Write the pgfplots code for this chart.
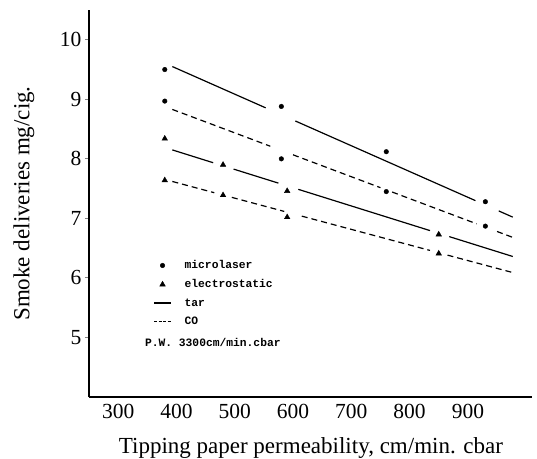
\documentclass[border=0pt]{standalone}
\usepackage{fontspec}
\setmainfont{Liberation Serif}
\newfontfamily\lmono{Liberation Mono}
\usepackage{pgfplots}
\pgfplotsset{compat=1.18}

% measured points
\pgfplotstableread{
x y
380 9.50
580 8.88
760 8.12
930 7.28
}\mictar
\pgfplotstableread{
x y
380 8.97
580 8.00
760 7.45
930 6.87
}\micco
\pgfplotstableread{
x y
380 8.34
480 7.90
590 7.46
850 6.73
}\eletar
\pgfplotstableread{
x y
380 7.64
480 7.39
590 7.02
850 6.41
}\eleco

\begin{document}
\begin{tikzpicture}
\useasboundingbox (-89bp,-62bp) rectangle (448bp,397bp);
\begin{axis}[
  scale only axis, width=443bp, height=387bp,
  xmin=250, xmax=1010, ymin=4, ymax=10.5,
  axis lines=left, axis line style={-, line width=1.4bp},
  xtick={300,400,...,900}, ytick={5,6,...,10},
  tick align=outside, major tick length=4bp,
  xtick style={draw=none}, ytick style={line width=1bp},
  ticklabel style={font=\fontsize{21.5bp}{25bp}\selectfont},
  /pgf/number format/assume math mode=true,
  xlabel={Tipping paper permeability, cm/min. cbar},
  ylabel={Smoke deliveries mg/cig.},
  label style={font=\fontsize{23bp}{27bp}\selectfont},
  xlabel style={at={(axis description cs:0.501,-0.145)}, anchor=base},
  ylabel style={at={(axis description cs:-0.147,0.5)}, anchor=center},
  unbounded coords=jump,
  legend style={draw=none, fill=none, at={(axis description cs:0.145,0.358)},
    anchor=north west, inner sep=0pt, row sep=5.3bp, column sep=11bp,
    font=\lmono\bfseries\fontsize{11.3bp}{13bp}\selectfont},
  legend cell align=left,
]
\addlegendimage{only marks, mark=*, mark size=2.3bp, black}
\addlegendentry{microlaser}
\addlegendimage{only marks, mark=triangle*, mark size=3.2bp, black}
\addlegendentry{electrostatic}
\addlegendimage{black, line width=1.2bp}
\addlegendentry{tar}
\addlegendimage{black, line width=1.1bp, dash pattern=on 3bp off 1.5bp}
\addlegendentry{CO}

\addplot[only marks, mark=*, mark size=2.3bp, black, forget plot] table {\mictar};
\addplot[only marks, mark=*, mark size=2.3bp, black, forget plot] table {\micco};
\addplot[only marks, mark=triangle*, mark size=3.2bp, black, forget plot] table {\eletar};
\addplot[only marks, mark=triangle*, mark size=3.2bp, black, forget plot] table {\eleco};

% fitted lines, broken around the points
\addplot[black, line width=1.2bp, forget plot] coordinates {
  (393,9.55)(553,8.857)(553,nan)(604,8.636)(913,7.298)(913,nan)(953,7.125)(977,7.021)};
\addplot[black, line width=1.2bp, dash pattern=on 6bp off 4bp, forget plot] coordinates {
  (393,8.83)(561,8.212)(561,nan)(600,8.068)(750,7.516)(750,nan)(770,7.443)(915,6.909)(915,nan)(950,6.780)(977,6.681)};
\addplot[black, line width=1.2bp, forget plot] coordinates {
  (393,8.15)(463,7.935)(463,nan)(498,7.828)(575,7.592)(575,nan)(609,7.488)(835,6.795)(835,nan)(868,6.694)(977,6.36)};
\addplot[black, line width=1.2bp, dash pattern=on 6bp off 4bp, forget plot] coordinates {
  (393,7.62)(465,7.431)(465,nan)(495,7.353)(585,7.117)(585,nan)(615,7.038)(835,6.462)(835,nan)(865,6.383)(977,6.090)};

\node[anchor=west, inner sep=0pt, font=\lmono\bfseries\fontsize{11.3bp}{13bp}\selectfont]
  at (axis description cs:0.126,0.14) {P.W. 3300cm/min.cbar};
\end{axis}
\end{tikzpicture}
\end{document}
